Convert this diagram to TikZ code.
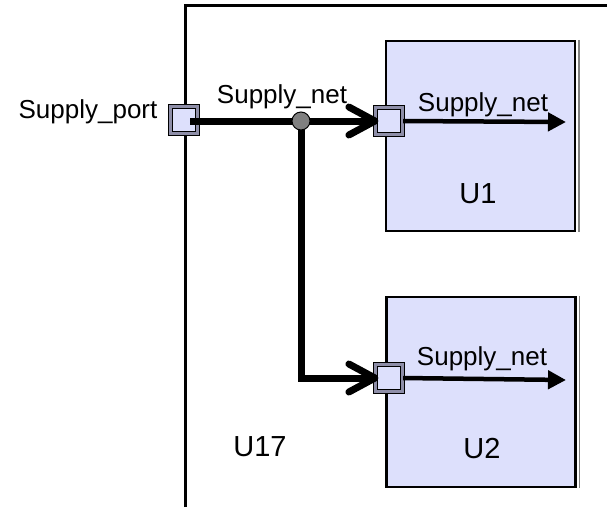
\documentclass[tikz,border=0pt]{standalone}
\usepackage{fontspec}
\setmainfont{Liberation Sans}
\usetikzlibrary{arrows.meta,calc}
\definecolor{boxfill}{HTML}{DDE0FC}
\definecolor{bevel}{HTML}{8E8EA8}
\definecolor{juncfill}{HTML}{808080}
\begin{document}
\begin{tikzpicture}[x=1pt,y=-1pt,
  frame/.style={line width=3pt},
  blockbox/.style={draw, line width=2.5pt, fill=boxfill, minimum width=189pt, minimum height=190pt, inner sep=0pt},
  port/.style={draw, line width=1.2pt, double=bevel, double distance=2.5pt, fill=boxfill, minimum size=27pt, inner sep=0pt},
  wire/.style={line width=7pt},
  chev/.style={line width=7pt, line cap=round, line join=round},
  junc/.style={circle, draw, line width=1pt, fill=juncfill, minimum size=18pt, inner sep=0pt},
  inwire/.style={line width=4.5pt, -{Triangle[length=18pt,width=18pt]}},
  sup/.style={font=\fontsize{26}{30}\selectfont, anchor=base, inner sep=0pt},
  ulab/.style={font=\fontsize{29}{34}\selectfont, anchor=base, inner sep=0pt}]
\useasboundingbox (0,0) rectangle (607,507);
% outer block U17
\draw[frame] (185,507) -- (185,5) -- (607,5);
% inner blocks
\node[blockbox] (u1) at (480.5,136) {};
\node[blockbox] (u2) at (481,392) {};
\draw[gray, line width=1.5pt] ([xshift=2.5pt]u1.north east) -- ([xshift=2.5pt]u1.south east);
\draw[gray, line width=1.5pt] ([xshift=2.5pt]u2.north east) -- ([xshift=2.5pt]u2.south east);
% ports
\node[port] (sp) at (184,120) {};
\node[port] (p1) at (389,121) {};
\node[port] (p2) at (389,378) {};
% junction
\coordinate (jc) at (301,121);
% thick wires
\draw[wire] ([xshift=6pt]sp.center |- p1.west) -- (p1.west);
\draw[wire] (jc) |- (p2.west);
\draw[chev] ($(p1.west)+(-26,-14)$) -- (p1.west) -- ($(p1.west)+(-26,14)$);
\draw[chev] ($(p2.west)+(-26,-14)$) -- (p2.west) -- ($(p2.west)+(-26,14)$);
\node[junc] (j) at (jc) {};
% inner wires
\coordinate (e1) at (566,122);
\coordinate (e2) at (566,380);
\draw[inwire] (p1.east) -- (e1);
\draw[inwire] (p2.east) -- (e2);
% labels
\node[sup] (lsp) at (88,118) {Supply\_port};
\node[sup] (lsn) at (282,103) {Supply\_net};
\node[sup] (ln1) at (483,111) {Supply\_net};
\node[sup] (ln2) at (482,365) {Supply\_net};
\node[ulab] (lu1) at (478,203) {U1};
\node[ulab] (lu2) at (482,458) {U2};
\node[ulab] (lu17) at (260,456) {U17};
\end{tikzpicture}
\end{document}
